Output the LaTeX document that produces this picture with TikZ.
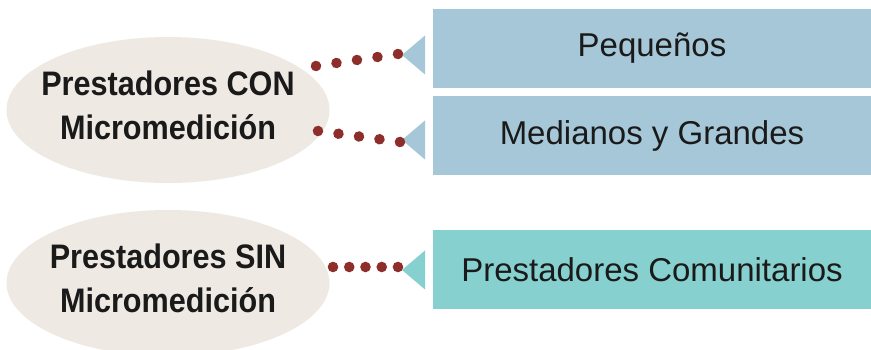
\documentclass[tikz,border=0pt]{standalone}
\usepackage{fontspec}
\setmainfont{Liberation Sans}
\newfontfamily\grupofont[FakeStretch=0.9]{Liberation Sans}
\usetikzlibrary{decorations.markings}
\definecolor{ellfill}{RGB}{239,233,228}
\definecolor{boxblue}{RGB}{165,199,215}
\definecolor{boxteal}{RGB}{134,209,207}
\definecolor{dotred}{RGB}{142,46,43}
\definecolor{txtgray}{RGB}{26,26,26}
\begin{document}
\begin{tikzpicture}[x=1pt,y=1pt,line cap=round,line join=round,
  grupo/.style={align=center,text=txtgray,inner sep=0pt,font=\grupofont\fontsize{34}{44}\selectfont\bfseries},
  caja/.style={rectangle,minimum width=438pt,minimum height=79pt,inner sep=0pt,
    text=txtgray,font=\fontsize{33}{40}\selectfont},
  puntos/.style={decoration={markings,mark=between positions 0 and 1 step 0.2499 with {\fill[dotred] (0,0) circle (5.3pt);}},decorate}]
      \path[use as bounding box,clip] (0,0) rectangle (871,350);
      % grupos
      \fill[ellfill] (168,240) ellipse (161.5 and 73);
      \fill[ellfill] (168,67) ellipse (161.5 and 73);
      \node[grupo] (con) at (168,245) {Prestadores CON\\Micromedición};
      \node[grupo] (sin) at (168,72) {Prestadores SIN\\Micromedición};
      % cajas
      \node[caja,fill=boxblue] (peq) at (652,301.5) {Pequeños};
      \node[caja,fill=boxblue] (med) at (652,214.5) {Medianos y Grandes};
      \node[caja,fill=boxteal] (com) at (652,80.5) {Prestadores Comunitarios};
      \coordinate (t1) at (402,295);
      \coordinate (t2) at (402,210);
      \coordinate (t3) at (402,80);
      \fill[boxblue] (t1) -- ++(23,19.5) -- ++(0,-39) -- cycle;
      \fill[boxblue] (t2) -- ++(23,19.5) -- ++(0,-39) -- cycle;
      \fill[boxteal] (t3) -- ++(23,19.5) -- ++(0,-39) -- cycle;
      \coordinate (s1) at (316,284);
      \coordinate (e1) at (398,296);
      \coordinate (s2) at (318,219);
      \coordinate (e2) at (400,208);
      \coordinate (s3) at (333,83);
      \coordinate (e3) at (398,83);
      \path[puntos] (s1) -- (e1);
      \path[puntos] (s2) -- (e2);
      \path[puntos] (s3) -- (e3);
    \end{tikzpicture}
\end{document}
